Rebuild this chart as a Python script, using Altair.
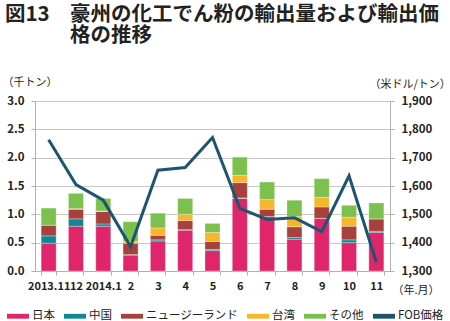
import altair as alt
import pandas as pd

months = ["2013.11", "12", "2014.1", "2", "3", "4", "5", "6", "7", "8", "9", "10", "11"]
japan = [0.49, 0.79, 0.79, 0.28, 0.53, 0.72, 0.36, 1.28, 0.96, 0.56, 0.93, 0.50, 0.68]
china = [0.13, 0.13, 0.04, 0.01, 0.02, 0.01, 0.02, 0.01, 0.00, 0.03, 0.00, 0.05, 0.02]
nz = [0.19, 0.17, 0.22, 0.20, 0.08, 0.16, 0.14, 0.27, 0.13, 0.19, 0.20, 0.24, 0.22]
taiwan = [0.00, 0.01, 0.01, 0.03, 0.13, 0.11, 0.16, 0.13, 0.17, 0.18, 0.17, 0.16, 0.00]
other = [0.30, 0.27, 0.22, 0.35, 0.26, 0.28, 0.16, 0.32, 0.31, 0.29, 0.33, 0.21, 0.28]
fob = [1763, 1605, 1550, 1386, 1656, 1665, 1771, 1521, 1482, 1488, 1439, 1636, 1331]

series_names = ["日本", "中国", "ニュージーランド", "台湾", "その他"]
series_values = [japan, china, nz, taiwan, other]
legend_names = series_names + ["FOB価格"]
colors = ["#E0266B", "#0F8797", "#A8403D", "#F8B62D", "#7CC04E", "#1D5570"]

rows = []
for si, (name, vals) in enumerate(zip(series_names, series_values)):
    for m, v in zip(months, vals):
        rows.append({"month": m, "series": name, "value": v, "order": si})
bar_df = pd.DataFrame(rows)
line_df = pd.DataFrame({"month": months, "fob": fob})

FONT = "Noto Sans CJK JP"
GRAY = "#b0b0b0"

x_enc = alt.X(
    "month:N", sort=months, scale=alt.Scale(paddingInner=0.45, paddingOuter=0.225),
    axis=alt.Axis(title="（年.月）", labelAngle=0, tickBand="extent", tickSize=4,
                  labelPadding=5, labelFontSize=11, domainColor=GRAY, tickColor=GRAY,
                  titleX=357, titleY=19, titleAlign="left", titleBaseline="middle",
                  titleFontWeight="normal", titleFontSize=11),
)

bars = alt.Chart(bar_df).mark_bar(stroke="white", strokeWidth=0.3).encode(
    x=x_enc,
    y=alt.Y("value:Q", stack="zero", scale=alt.Scale(domain=[0, 3], nice=False),
            axis=alt.Axis(title="（千トン）", values=[0, 0.5, 1, 1.5, 2, 2.5, 3], format=".1f",
                          tickSize=4, labelPadding=7, domainColor=GRAY, tickColor=GRAY,
                          gridColor="#c8c8c8", titleAngle=0, titleX=-33, titleY=-19,
                          titleAlign="left", titleBaseline="middle",
                          titleFontWeight="normal", titleFontSize=11)),
    color=alt.Color("series:N", scale=alt.Scale(domain=legend_names, range=colors),
                    legend=alt.Legend(title=None, orient="none", direction="horizontal",
                                      legendX=-28, legendY=204,
                                      symbolType="M-1,-0.22H1V0.22H-1Z", symbolSize=484,
                                      symbolStrokeWidth=0, labelFontSize=11.5,
                                      columnPadding=9, labelOffset=3, padding=0)),
    order=alt.Order("order:Q", sort="ascending"),
)

line = alt.Chart(line_df).mark_line(color="#1D5570", strokeWidth=3).encode(
    x=alt.X("month:N", sort=months),
    y=alt.Y("fob:Q", scale=alt.Scale(domain=[1300, 1900], nice=False),
            axis=alt.Axis(orient="right", title="（米ドル/トン）", values=list(range(1300, 2000, 100)),
                          format=",.0f", grid=False, tickSize=4, labelPadding=7,
                          domainColor=GRAY, tickColor=GRAY, titleAngle=0, titleX=-21, titleY=-17,
                          titleAlign="left", titleBaseline="middle",
                          titleFontWeight="normal", titleFontSize=11)),
)

title_lines = ["豪州の化工でん粉の輸出量および輸出価", "格の推移"]
tstyle = dict(align="left", baseline="middle", fontSize=20.5, fontWeight="bold", font=FONT, color="#222")
t1 = alt.Chart(pd.DataFrame({"t": ["図13"]})).mark_text(**tstyle).encode(
    text="t:N", x=alt.value(-30), y=alt.value(-86))
t2 = alt.Chart(pd.DataFrame({"t": [title_lines[0]]})).mark_text(**tstyle).encode(
    text="t:N", x=alt.value(35), y=alt.value(-86))
t3 = alt.Chart(pd.DataFrame({"t": [title_lines[1]]})).mark_text(**tstyle).encode(
    text="t:N", x=alt.value(35), y=alt.value(-65))

chart = alt.layer(bars, line, t1, t2, t3).resolve_scale(y="independent").properties(
    width=355, height=170,
    autosize=alt.AutoSizeParams(type="none"),
    padding={"left": 35, "top": 101, "right": 60, "bottom": 50},
).configure(font=FONT).configure_axis(
    labelFont=FONT, titleFont=FONT, labelFontSize=11.5, labelColor="#222", titleColor="#222",
    labelFontWeight="bold",
).configure_legend(labelFont=FONT, labelColor="#222").configure_view(stroke=None)

chart.save("out.html", embed_options={"renderer": "svg", "actions": False})
